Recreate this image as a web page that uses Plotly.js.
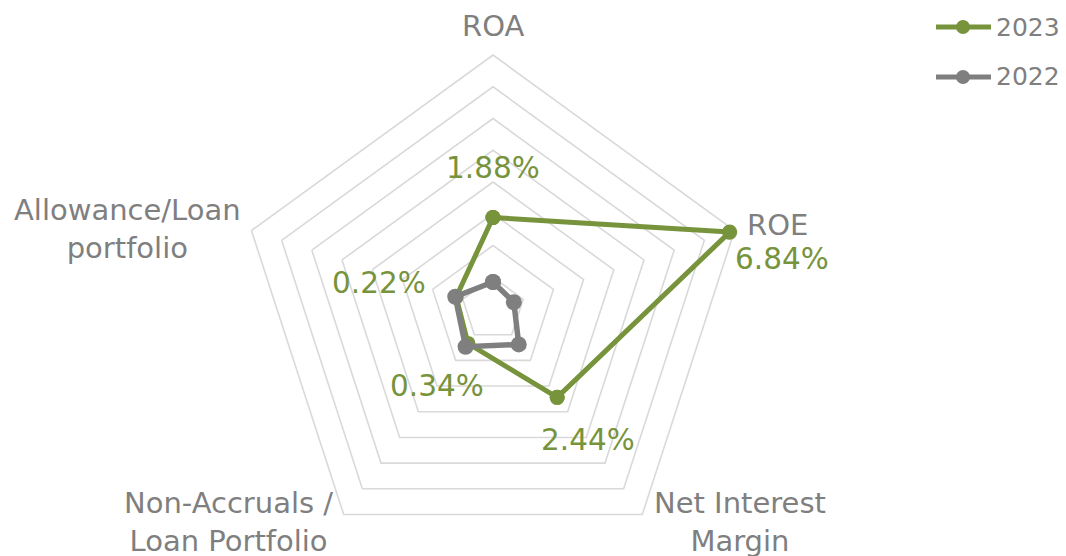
<!DOCTYPE html>
<html>
<head>
<meta charset="utf-8">
<script src="https://cdn.plot.ly/plotly-3.0.1.min.js"></script>
<style>
html,body{margin:0;padding:0;background:#fff;overflow:hidden;}
#chart{width:1066px;height:620px;}
</style>
</head>
<body>
<div id="chart"></div>
<script>
// ---- data ----
const categories = ['ROA', 'ROE', 'Net Interest Margin', 'Non-Accruals / Loan Portfolio', 'Allowance/Loan portfolio'];
const categoryLabels = ['ROA', 'ROE', 'Net Interest<br>Margin', 'Non-Accruals /<br>Loan Portfolio', 'Allowance/Loan<br>portfolio'];
const seriesNames = ['2023', '2022'];
const values2023 = [1.88, 6.84, 2.44, 0.34, 0.22];
const values2022 = [-0.15, -0.31, 0.38, 0.47, 0.25];
const radialRange = [-1, 7];

// ---- styling ----
const W = 1066, H = 620;
const GREEN = '#77933C', GRAY = '#7F7F7F', GRID = '#D9D9D9';
const FONT = 'DejaVu Sans, Verdana, sans-serif';
const px = x => x / W;
const py = y => (H - y) / H;

function closed(a){ return a.concat([a[0]]); }

const traces = [
  {
    type: 'scatterpolar', name: seriesNames[0], subplot: 'polar',
    r: closed(values2023), theta: closed(categories),
    mode: 'lines+markers', cliponaxis: true,
    line: {color: GREEN, width: 5},
    marker: {color: GREEN, size: 15},
    showlegend: false, hoverinfo: 'skip'
  },
  {
    type: 'scatterpolar', name: seriesNames[1], subplot: 'polar',
    r: closed(values2022), theta: closed(categories),
    mode: 'lines+markers', cliponaxis: true,
    line: {color: GRAY, width: 5.5},
    marker: {color: GRAY, size: 16},
    showlegend: false, hoverinfo: 'skip'
  },
  // unclipped overlay of the 2023 markers so the marker at the rim is whole
  {
    type: 'scatterpolar', name: seriesNames[0], subplot: 'polar2',
    r: values2023, theta: categories,
    mode: 'markers', cliponaxis: false,
    marker: {color: GREEN, size: 15},
    showlegend: false, hoverinfo: 'skip'
  }
];

// category label positions (pixels)
const catPos = [[493, 26], [777, 225], [740, 522], [228, 522], [127, 229]];
// data label positions (pixels)
const lblPos = [[493, 168], [782, 259], [588, 440], [437, 386], [379, 283]];

const annotations = [];
categoryLabels.forEach((t, i) => {
  const a = {
    xref: 'paper', yref: 'paper', x: px(catPos[i][0]), y: py(catPos[i][1]),
    text: t, showarrow: false, xanchor: 'center', yanchor: 'middle', align: 'center',
    font: {family: FONT, size: 29, color: GRAY}
  };
  if (i === 1) a.height = 28;
  annotations.push(a);
});
values2023.forEach((v, i) => {
  const a = {
    xref: 'paper', yref: 'paper', x: px(lblPos[i][0]), y: py(lblPos[i][1]),
    text: v.toFixed(2) + '%', showarrow: false, xanchor: 'center', yanchor: 'middle',
    font: {family: FONT, size: 29.5, color: GREEN}
  };
  if (i === 1) a.height = 28;
  annotations.push(a);
});

// manual legend
const legendRows = [[seriesNames[0], GREEN, 27], [seriesNames[1], GRAY, 77]];
const shapes = [];
legendRows.forEach(([name, col, y]) => {
  shapes.push({type: 'line', xref: 'paper', yref: 'paper',
    x0: px(936), x1: px(991), y0: py(y), y1: py(y),
    line: {color: col, width: 5}});
  shapes.push({type: 'circle', xref: 'paper', yref: 'paper',
    x0: px(956), x1: px(970), y0: py(y + 7), y1: py(y - 7),
    fillcolor: col, line: {color: col, width: 0}});
  annotations.push({xref: 'paper', yref: 'paper', x: px(994), y: py(y),
    text: name, showarrow: false, xanchor: 'left', yanchor: 'middle',
    font: {family: FONT, size: 25, color: GRAY}});
});

const polarDomain = {x: [px(239), px(747)], y: [py(563), py(55)]};

const layout = {
  width: W, height: H,
  margin: {l: 0, r: 0, t: 0, b: 0},
  paper_bgcolor: '#fff',
  font: {family: FONT},
  showlegend: false,
  polar: {
    domain: polarDomain,
    bgcolor: 'rgba(0,0,0,0)',
    gridshape: 'linear',
    radialaxis: {
      range: radialRange, dtick: 1, tick0: 0,
      showline: false, ticks: '', showticklabels: false,
      gridcolor: GRID, gridwidth: 1.6, angle: 90
    },
    angularaxis: {
      rotation: 90, direction: 'clockwise',
      showgrid: false, showticklabels: false, ticks: '',
      showline: true, linecolor: GRID, linewidth: 1.6
    }
  },
  polar2: {
    domain: polarDomain,
    bgcolor: 'rgba(0,0,0,0)',
    gridshape: 'linear',
    radialaxis: {
      range: radialRange, showgrid: false,
      showline: false, ticks: '', showticklabels: false
    },
    angularaxis: {
      rotation: 90, direction: 'clockwise', categoryarray: categories, categoryorder: 'array',
      showgrid: false, showticklabels: false, ticks: '', showline: false
    }
  },
  annotations: annotations,
  shapes: shapes
};

Plotly.newPlot('chart', traces, layout, {staticPlot: true, displayModeBar: false});
</script>
</body>
</html>
